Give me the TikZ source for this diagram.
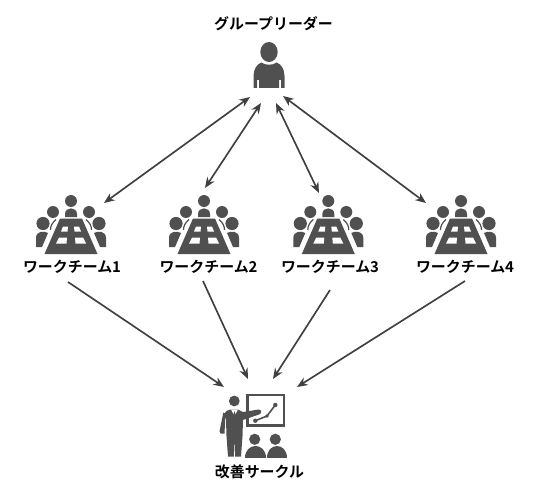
\documentclass[tikz,border=0pt]{standalone}
\usepackage{fontspec}
\setmainfont{Noto Sans CJK JP}[BoldFont={Noto Sans CJK JP Bold}]
\usetikzlibrary{arrows.meta}
\definecolor{icon}{HTML}{505050}
\definecolor{arrowc}{HTML}{404040}
\tikzset{
 x=0.75pt,y=-0.75pt,
 lbl/.style={font=\bfseries\fontsize{11.2pt}{12pt}\selectfont,inner sep=0pt,text=black},
 link/.style={draw=arrowc,line width=1.25pt,{Stealth[length=8pt,width=6.5pt]}-{Stealth[length=8pt,width=6.5pt]}},
 flow/.style={draw=arrowc,line width=1.25pt,-{Stealth[length=8pt,width=6.5pt]}},
 team/.pic={
  \fill[icon] (0,0) circle[radius=6];
  \fill[icon] (-18,11) circle[radius=6];
  \fill[icon] (18,11) circle[radius=6];
  \fill[icon] (-28,22.5) circle[radius=6.6];
  \fill[icon] (28,22.5) circle[radius=6.6];
  \fill[icon] (-6,16) -- (-6,13) .. controls (-6,5.5) and (6,5.5) .. (6,13) -- (6,16) -- cycle;
  \fill[icon] (-35,46) -- (-35,37) .. controls (-35,30) and (-27,29.5) .. (-23,32) -- (-29,46) -- cycle;
  \fill[icon] (35,46) -- (35,37) .. controls (35,30) and (27,29.5) .. (23,32) -- (29,46) -- cycle;
  \fill[icon] (-11,17.5) -- (11,17.5) -- (26.5,53) -- (-26.5,53) -- cycle;
  \fill[white] (-8,25.5) -- (-3,25.5) -- (-3.5,30.5) -- (-10,30.5) -- cycle;
  \fill[white] (3,25.5) -- (8,25.5) -- (10,30.5) -- (3.5,30.5) -- cycle;
  \fill[white] (-12,36.5) -- (-4,36.5) -- (-4.5,42.5) -- (-15,42.5) -- cycle;
  \fill[white] (4,36.5) -- (12,36.5) -- (15,42.5) -- (4.5,42.5) -- cycle;
  \draw[icon,line width=0.9pt] (-15,18.5) .. controls (-19,22) and (-20.5,25) .. (-20.5,29);
  \draw[icon,line width=0.9pt] (15,18.5) .. controls (19,22) and (20.5,25) .. (20.5,29);
 }
}
\begin{document}
\begin{tikzpicture}
\useasboundingbox (0,0) rectangle (536,492);
% leader
\node[lbl] (leader) at (273.5,24) {グループリーダー};
\fill[icon] (269,52) ellipse[x radius=8.7,y radius=10];
\fill[icon] (261.5,62.5) .. controls (264.5,65.5) and (273.5,65.5) .. (276.5,62.5) .. controls (281,64) and (284.5,69) .. (284.5,76) -- (284.5,88) -- (281,88) -- (281,80) -- (279,80) -- (279,88) -- (259,88) -- (259,80) -- (257,80) -- (257,88) -- (253.5,88) -- (253.5,76) .. controls (253.5,69) and (257,64) .. (261.5,62.5) -- cycle;
% teams
\pic at (71,201) {team};
\pic at (204,201) {team};
\pic at (328.3,201) {team};
\pic at (461,201) {team};
\node[lbl] (t1) at (72,267) {ワークチーム1};
\node[lbl] (t2) at (208.5,267) {ワークチーム2};
\node[lbl] (t3) at (330,267) {ワークチーム3};
\node[lbl] (t4) at (465,267) {ワークチーム4};
% improvement circle
\node[lbl] (circle) at (259.5,472) {改善サークル};
\draw[icon,line width=1.9pt] (247.5,395.2) rectangle (284.2,425.5);
\fill[icon] (255.3,420.7) circle[radius=2.2];
\fill[icon] (267,416) circle[radius=1.8];
\fill[icon] (275.3,405) circle[radius=2.2];
\draw[icon,line width=1.2pt] (255.3,420.7) -- (267,416) -- (275.3,405);
\fill[icon] (234.3,401) circle[radius=5.4];
\draw[white,line width=2pt] (243,417) -- (258,413.5);
\fill[icon] (224,414) .. controls (225,411) and (228,410) .. (230.5,409.5) -- (238,409.5) -- (243,412) -- (258.5,409.5) .. controls (262,409.5) and (262,413.5) .. (259,414.5) -- (243,420) -- (242.5,436) -- (241,456.7) -- (235.2,456.7) -- (234.5,438) -- (233.8,456.7) -- (228,456.7) -- (226.5,436) -- (226,420) -- cycle;
\fill[icon] (223.3,412.5) -- (225.5,414) -- (224.5,433.5) -- (220.5,433.5) -- (219.5,431.5) -- cycle;
\fill[white] (231,409.5) -- (238,409.5) -- (234.5,416) -- cycle;
\fill[icon] (234.5,411) -- (235.8,415) -- (234.5,421) -- (233.2,415) -- cycle;
\fill[icon] (254.7,439.3) circle[radius=5.6];
\fill[icon] (275.3,439.3) circle[radius=5.6];
\fill[icon] (245,457.5) .. controls (245,442) and (265.5,442) .. (265.5,457.5) -- cycle;
\fill[icon] (266.8,457.5) .. controls (266.8,442) and (287,442) .. (287,457.5) -- cycle;
% connector ends
\coordinate (a1) at (250,97); \coordinate (b1) at (104,203);
\coordinate (a2) at (261,103); \coordinate (b2) at (205,188);
\coordinate (a3) at (276,103); \coordinate (b3) at (319,193);
\coordinate (a4) at (283,96); \coordinate (b4) at (426,203);
\coordinate (c1) at (224,387); \coordinate (c2) at (248,379);
\coordinate (c3) at (273,379); \coordinate (c4) at (297,387);
\coordinate (s1) at (68,282); \coordinate (s2) at (203,281);
\coordinate (s3) at (330,290); \coordinate (s4) at (465,281);
\draw[link] (a1) -- (b1);
\draw[link] (a2) -- (b2);
\draw[link] (a3) -- (b3);
\draw[link] (a4) -- (b4);
\draw[flow] (s1) -- (c1);
\draw[flow] (s2) -- (c2);
\draw[flow] (s3) -- (c3);
\draw[flow] (s4) -- (c4);
\end{tikzpicture}
\end{document}
